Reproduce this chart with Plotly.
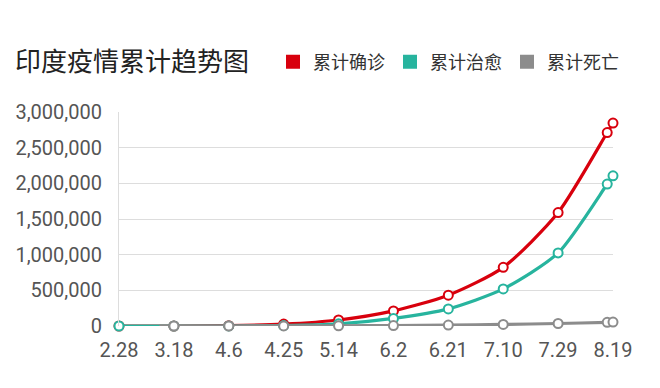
import plotly.graph_objects as go

# ---- data ----
tick_labels = ["2.28", "3.18", "4.6", "4.25", "5.14", "6.2", "6.21", "7.10", "7.29", "8.19"]
tick_index = [0, 19, 38, 57, 76, 95, 114, 133, 152, 171]          # day-slot of each tick label
point_index = [0, 19, 38, 57, 76, 95, 114, 133, 152, 169, 171]   # day-slot of each sampled point

confirmed = [3, 150, 4800, 26500, 84000, 212000, 432000, 822000, 1590000, 2712000, 2845000]
cured = [0, 10, 330, 5900, 30000, 106000, 240000, 520000, 1025000, 1990000, 2105000]

death_index = [14, 19, 38, 57, 76, 95, 114, 133, 152, 169, 171]
deaths = [1, 3, 120, 830, 2650, 5900, 13300, 21600, 34900, 51500, 54500]

series_names = ["累计确诊", "累计治愈", "累计死亡"]
colors = ["#d8000d", "#27b49e", "#8c8c8c"]

y_ticks = [0, 500000, 1000000, 1500000, 2000000, 2500000, 3000000]

FONT = "Roboto, 'Noto Sans CJK SC', sans-serif"

fig = go.Figure()

def marker_sizes(idx):
    shown = set(tick_index) | set(point_index)
    return [9 if i in shown and i != 14 else 0 for i in idx]

for name, xs, ys, col in [
    (series_names[0], point_index, confirmed, colors[0]),
    (series_names[1], point_index, cured, colors[1]),
    (series_names[2], death_index, deaths, colors[2]),
]:
    fig.add_trace(go.Scatter(
        x=xs, y=ys, mode="lines+markers", name=name, showlegend=False,
        cliponaxis=False,
        line=dict(color=col, width=3.2, shape="spline", smoothing=0.7),
        marker=dict(size=marker_sizes(xs), color="white", opacity=1,
                    line=dict(color=col, width=2)),
        hoverinfo="skip",
    ))

# legend entries (square icons)
for name, col in zip(series_names, colors):
    fig.add_trace(go.Scatter(
        x=[None], y=[None], mode="markers", name=name,
        marker=dict(symbol="square", size=14, color=col),
    ))

fig.update_layout(
    width=660, height=388,
    paper_bgcolor="white", plot_bgcolor="white",
    margin=dict(l=119, r=47, t=112, b=62),
    font=dict(family=FONT, color="#555555"),
    title=dict(text="印度疫情累计趋势图", x=15/660, xanchor="left",
               y=1 - 62/388, yanchor="middle", xref="container", yref="container",
               font=dict(size=26, color="#222222", family=FONT)),
    legend=dict(orientation="h", xref="container", yref="container",
                x=273/660, xanchor="left", y=1 - 62/388, yanchor="middle",
                font=dict(size=18, color="#333333", family=FONT),
                bgcolor="rgba(0,0,0,0)", itemclick=False),
    xaxis=dict(range=[0, 171], tickvals=tick_index, ticktext=tick_labels,
               showgrid=False, zeroline=False, showline=False,
               ticks="outside", ticklen=6, tickcolor="rgba(0,0,0,0)",
               tickfont=dict(size=20, color="#555555")),
    yaxis=dict(range=[0, 3000000], tickvals=y_ticks, tickformat=",",
               showgrid=True, gridcolor="#dddddd", gridwidth=1,
               zeroline=False, showline=True, linecolor="#dddddd", linewidth=1,
               ticks="", tickfont=dict(size=20, color="#555555"), ticklabelstandoff=12),
)

fig.write_html("out.html", config={"displayModeBar": False},
               post_script="document.body.style.margin='0px';")
